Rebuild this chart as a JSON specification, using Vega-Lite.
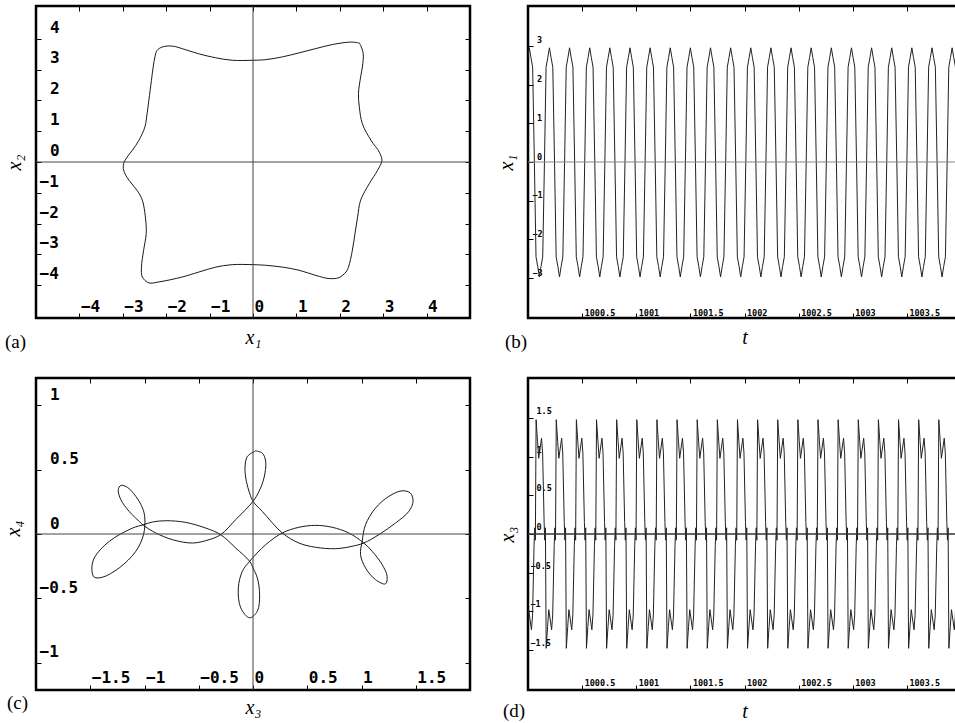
{
"$schema": "https://vega.github.io/schema/vega-lite/v6.json",
"autosize": {"type": "none"},
"padding": {"left": 36, "top": 6, "right": 919, "bottom": 717},
"background": "white",
"config": {
 "view": {"stroke": "#000", "strokeWidth": 2.5},
 "axis": {"domain": false, "grid": false, "tickColor": "#000", "tickWidth": 1, "labelColor": "#000", "labelFont": "DejaVu Sans Mono", "labelFontWeight": "bold", "titleColor": "#000", "titleFont": "Liberation Serif", "titleFontStyle": "italic", "titleFontWeight": "normal", "titleFontSize": 20, "labelFlush": false, "labelOverlap": false, "labelBound": false},
 "title": {"font": "Liberation Serif", "fontSize": 19, "fontWeight": "normal", "color": "#000", "orient": "bottom", "anchor": "start", "frame": "group", "baseline": "top"}
},
"columns": 2,
"bounds": "flush",
"spacing": {"row": 60, "column": 58},
"datasets": {
"pa": [{"x":2.45,"y":3.86},{"x":2.25,"y":3.89},{"x":1.83,"y":3.81},{"x":1.45,"y":3.68},{"x":1.06,"y":3.54},{"x":0.68,"y":3.41},{"x":0.29,"y":3.32},{"x":0,"y":3.30},{"x":-0.48,"y":3.30},{"x":-0.86,"y":3.38},{"x":-1.25,"y":3.51},{"x":-1.55,"y":3.64},{"x":-1.86,"y":3.76},{"x":-2.09,"y":3.73},{"x":-2.21,"y":3.62},{"x":-2.26,"y":3.41},{"x":-2.30,"y":3.08},{"x":-2.34,"y":2.65},{"x":-2.40,"y":2.0},{"x":-2.44,"y":1.57},{"x":-2.49,"y":1.14},{"x":-2.63,"y":0.70},{"x":-2.78,"y":0.38},{"x":-2.90,"y":0.16},{"x":-2.98,"y":-0.05},{"x":-2.98,"y":-0.27},{"x":-2.86,"y":-0.59},{"x":-2.67,"y":-0.92},{"x":-2.55,"y":-1.24},{"x":-2.48,"y":-1.78},{"x":-2.46,"y":-2.32},{"x":-2.52,"y":-2.86},{"x":-2.57,"y":-3.41},{"x":-2.55,"y":-3.73},{"x":-2.40,"y":-3.92},{"x":-2.17,"y":-3.89},{"x":-1.63,"y":-3.73},{"x":-1.25,"y":-3.57},{"x":-0.86,"y":-3.41},{"x":-0.48,"y":-3.33},{"x":0,"y":-3.33},{"x":0.29,"y":-3.35},{"x":0.68,"y":-3.41},{"x":1.06,"y":-3.51},{"x":1.45,"y":-3.68},{"x":1.75,"y":-3.78},{"x":1.98,"y":-3.75},{"x":2.14,"y":-3.57},{"x":2.2,"y":-3.41},{"x":2.29,"y":-2.86},{"x":2.35,"y":-2.32},{"x":2.41,"y":-1.78},{"x":2.48,"y":-1.24},{"x":2.68,"y":-0.70},{"x":2.87,"y":-0.27},{"x":2.97,"y":0.05},{"x":2.91,"y":0.32},{"x":2.72,"y":0.70},{"x":2.52,"y":1.24},{"x":2.45,"y":1.78},{"x":2.43,"y":2.22},{"x":2.48,"y":2.76},{"x":2.52,"y":3.08},{"x":2.54,"y":3.51},{"x":2.48,"y":3.78},{"x":2.45,"y":3.86}],
"pc": [{"x":0.025,"y":0.645},{"x":-0.052,"y":0.601},{"x":-0.074,"y":0.511},{"x":-0.061,"y":0.408},{"x":-0.031,"y":0.317},{"x":0,"y":0.253},{"x":0.086,"y":0.175},{"x":0.270,"y":0.008},{"x":0.423,"y":-0.070},{"x":0.577,"y":-0.103},{"x":0.761,"y":-0.114},{"x":0.914,"y":-0.095},{"x":1.021,"y":-0.070},{"x":1.160,"y":-0.005},{"x":1.313,"y":0.085},{"x":1.436,"y":0.175},{"x":1.475,"y":0.253},{"x":1.451,"y":0.317},{"x":1.374,"y":0.335},{"x":1.252,"y":0.292},{"x":1.129,"y":0.201},{"x":1.037,"y":0.072},{"x":1.006,"y":-0.057},{"x":0.991,"y":-0.160},{"x":1.037,"y":-0.263},{"x":1.129,"y":-0.354},{"x":1.221,"y":-0.387},{"x":1.236,"y":-0.328},{"x":1.190,"y":-0.237},{"x":1.098,"y":-0.134},{"x":1.021,"y":-0.070},{"x":0.883,"y":0.008},{"x":0.730,"y":0.052},{"x":0.577,"y":0.067},{"x":0.423,"y":0.052},{"x":0.270,"y":0.008},{"x":0.117,"y":-0.083},{"x":-0.031,"y":-0.212},{"x":-0.098,"y":-0.289},{"x":-0.135,"y":-0.418},{"x":-0.113,"y":-0.573},{"x":-0.031,"y":-0.650},{"x":0.040,"y":-0.599},{"x":0.061,"y":-0.470},{"x":0.040,"y":-0.341},{"x":0,"y":-0.263},{"x":-0.031,"y":-0.212},{"x":-0.160,"y":-0.108},{"x":-0.298,"y":-0.005},{"x":-0.436,"y":0.046},{"x":-0.620,"y":0.090},{"x":-0.804,"y":0.103},{"x":-0.926,"y":0.093},{"x":-1.009,"y":0.072},{"x":-1.110,"y":0.046},{"x":-1.325,"y":-0.057},{"x":-1.463,"y":-0.186},{"x":-1.485,"y":-0.276},{"x":-1.463,"y":-0.335},{"x":-1.387,"y":-0.335},{"x":-1.233,"y":-0.263},{"x":-1.080,"y":-0.134},{"x":-1.009,"y":-0.005},{"x":-0.997,"y":0.124},{"x":-1.018,"y":0.201},{"x":-1.080,"y":0.292},{"x":-1.156,"y":0.361},{"x":-1.218,"y":0.377},{"x":-1.242,"y":0.343},{"x":-1.218,"y":0.266},{"x":-1.141,"y":0.175},{"x":-1.049,"y":0.098},{"x":-1.009,"y":0.067},{"x":-0.896,"y":0.008},{"x":-0.742,"y":-0.044},{"x":-0.558,"y":-0.070},{"x":-0.405,"y":-0.044},{"x":-0.298,"y":-0.005},{"x":-0.160,"y":0.111},{"x":0,"y":0.253},{"x":0.055,"y":0.330},{"x":0.101,"y":0.434},{"x":0.117,"y":0.563},{"x":0.086,"y":0.627},{"x":0.025,"y":0.645}],
"pb": [
{"t":999.950,"v":-2.45},{"t":999.966,"v":0},{"t":999.981,"v":2.45},{"t":999.997,"v":2.7},
{"t":1000.012,"v":2.95},{"t":1000.027,"v":2.7},{"t":1000.043,"v":2.45},{"t":1000.059,"v":0},{"t":1000.074,"v":-2.45},{"t":1000.090,"v":-2.7},{"t":1000.105,"v":-2.97},{"t":1000.120,"v":-2.7},{"t":1000.136,"v":-2.45},{"t":1000.152,"v":0},{"t":1000.167,"v":2.45},{"t":1000.183,"v":2.7},
{"t":1000.198,"v":2.95},{"t":1000.213,"v":2.7},{"t":1000.229,"v":2.45},{"t":1000.245,"v":0},{"t":1000.260,"v":-2.45},{"t":1000.276,"v":-2.7},{"t":1000.291,"v":-2.97},{"t":1000.306,"v":-2.7},{"t":1000.322,"v":-2.45},{"t":1000.338,"v":0},{"t":1000.353,"v":2.45},{"t":1000.369,"v":2.7},
{"t":1000.384,"v":2.95},{"t":1000.399,"v":2.7},{"t":1000.415,"v":2.45},{"t":1000.431,"v":0},{"t":1000.446,"v":-2.45},{"t":1000.462,"v":-2.7},{"t":1000.477,"v":-2.97},{"t":1000.492,"v":-2.7},{"t":1000.508,"v":-2.45},{"t":1000.524,"v":0},{"t":1000.539,"v":2.45},{"t":1000.555,"v":2.7},
{"t":1000.570,"v":2.95},{"t":1000.585,"v":2.7},{"t":1000.601,"v":2.45},{"t":1000.617,"v":0},{"t":1000.632,"v":-2.45},{"t":1000.648,"v":-2.7},{"t":1000.663,"v":-2.97},{"t":1000.678,"v":-2.7},{"t":1000.694,"v":-2.45},{"t":1000.710,"v":0},{"t":1000.725,"v":2.45},{"t":1000.741,"v":2.7},
{"t":1000.756,"v":2.95},{"t":1000.771,"v":2.7},{"t":1000.787,"v":2.45},{"t":1000.803,"v":0},{"t":1000.818,"v":-2.45},{"t":1000.834,"v":-2.7},{"t":1000.849,"v":-2.97},{"t":1000.864,"v":-2.7},{"t":1000.880,"v":-2.45},{"t":1000.896,"v":0},{"t":1000.911,"v":2.45},{"t":1000.927,"v":2.7},
{"t":1000.942,"v":2.95},{"t":1000.957,"v":2.7},{"t":1000.973,"v":2.45},{"t":1000.989,"v":0},{"t":1001.004,"v":-2.45},{"t":1001.020,"v":-2.7},{"t":1001.035,"v":-2.97},{"t":1001.050,"v":-2.7},{"t":1001.066,"v":-2.45},{"t":1001.082,"v":0},{"t":1001.097,"v":2.45},{"t":1001.113,"v":2.7},
{"t":1001.128,"v":2.95},{"t":1001.143,"v":2.7},{"t":1001.159,"v":2.45},{"t":1001.175,"v":0},{"t":1001.190,"v":-2.45},{"t":1001.206,"v":-2.7},{"t":1001.221,"v":-2.97},{"t":1001.236,"v":-2.7},{"t":1001.252,"v":-2.45},{"t":1001.268,"v":0},{"t":1001.283,"v":2.45},{"t":1001.299,"v":2.7},
{"t":1001.314,"v":2.95},{"t":1001.329,"v":2.7},{"t":1001.345,"v":2.45},{"t":1001.361,"v":0},{"t":1001.376,"v":-2.45},{"t":1001.392,"v":-2.7},{"t":1001.407,"v":-2.97},{"t":1001.422,"v":-2.7},{"t":1001.438,"v":-2.45},{"t":1001.454,"v":0},{"t":1001.469,"v":2.45},{"t":1001.485,"v":2.7},
{"t":1001.500,"v":2.95},{"t":1001.515,"v":2.7},{"t":1001.531,"v":2.45},{"t":1001.547,"v":0},{"t":1001.562,"v":-2.45},{"t":1001.578,"v":-2.7},{"t":1001.593,"v":-2.97},{"t":1001.608,"v":-2.7},{"t":1001.624,"v":-2.45},{"t":1001.640,"v":0},{"t":1001.655,"v":2.45},{"t":1001.671,"v":2.7},
{"t":1001.686,"v":2.95},{"t":1001.701,"v":2.7},{"t":1001.717,"v":2.45},{"t":1001.733,"v":0},{"t":1001.748,"v":-2.45},{"t":1001.764,"v":-2.7},{"t":1001.779,"v":-2.97},{"t":1001.794,"v":-2.7},{"t":1001.810,"v":-2.45},{"t":1001.826,"v":0},{"t":1001.841,"v":2.45},{"t":1001.857,"v":2.7},
{"t":1001.872,"v":2.95},{"t":1001.887,"v":2.7},{"t":1001.903,"v":2.45},{"t":1001.919,"v":0},{"t":1001.934,"v":-2.45},{"t":1001.950,"v":-2.7},{"t":1001.965,"v":-2.97},{"t":1001.980,"v":-2.7},{"t":1001.996,"v":-2.45},{"t":1002.012,"v":0},{"t":1002.027,"v":2.45},{"t":1002.043,"v":2.7},
{"t":1002.058,"v":2.95},{"t":1002.073,"v":2.7},{"t":1002.089,"v":2.45},{"t":1002.105,"v":0},{"t":1002.120,"v":-2.45},{"t":1002.136,"v":-2.7},{"t":1002.151,"v":-2.97},{"t":1002.166,"v":-2.7},{"t":1002.182,"v":-2.45},{"t":1002.198,"v":0},{"t":1002.213,"v":2.45},{"t":1002.229,"v":2.7},
{"t":1002.244,"v":2.95},{"t":1002.259,"v":2.7},{"t":1002.275,"v":2.45},{"t":1002.291,"v":0},{"t":1002.306,"v":-2.45},{"t":1002.322,"v":-2.7},{"t":1002.337,"v":-2.97},{"t":1002.352,"v":-2.7},{"t":1002.368,"v":-2.45},{"t":1002.384,"v":0},{"t":1002.399,"v":2.45},{"t":1002.415,"v":2.7},
{"t":1002.430,"v":2.95},{"t":1002.445,"v":2.7},{"t":1002.461,"v":2.45},{"t":1002.477,"v":0},{"t":1002.492,"v":-2.45},{"t":1002.508,"v":-2.7},{"t":1002.523,"v":-2.97},{"t":1002.538,"v":-2.7},{"t":1002.554,"v":-2.45},{"t":1002.570,"v":0},{"t":1002.585,"v":2.45},{"t":1002.601,"v":2.7},
{"t":1002.616,"v":2.95},{"t":1002.631,"v":2.7},{"t":1002.647,"v":2.45},{"t":1002.663,"v":0},{"t":1002.678,"v":-2.45},{"t":1002.694,"v":-2.7},{"t":1002.709,"v":-2.97},{"t":1002.724,"v":-2.7},{"t":1002.740,"v":-2.45},{"t":1002.756,"v":0},{"t":1002.771,"v":2.45},{"t":1002.787,"v":2.7},
{"t":1002.802,"v":2.95},{"t":1002.817,"v":2.7},{"t":1002.833,"v":2.45},{"t":1002.849,"v":0},{"t":1002.864,"v":-2.45},{"t":1002.880,"v":-2.7},{"t":1002.895,"v":-2.97},{"t":1002.910,"v":-2.7},{"t":1002.926,"v":-2.45},{"t":1002.942,"v":0},{"t":1002.957,"v":2.45},{"t":1002.973,"v":2.7},
{"t":1002.988,"v":2.95},{"t":1003.003,"v":2.7},{"t":1003.019,"v":2.45},{"t":1003.035,"v":0},{"t":1003.050,"v":-2.45},{"t":1003.066,"v":-2.7},{"t":1003.081,"v":-2.97},{"t":1003.096,"v":-2.7},{"t":1003.112,"v":-2.45},{"t":1003.128,"v":0},{"t":1003.143,"v":2.45},{"t":1003.159,"v":2.7},
{"t":1003.174,"v":2.95},{"t":1003.189,"v":2.7},{"t":1003.205,"v":2.45},{"t":1003.221,"v":0},{"t":1003.236,"v":-2.45},{"t":1003.252,"v":-2.7},{"t":1003.267,"v":-2.97},{"t":1003.282,"v":-2.7},{"t":1003.298,"v":-2.45},{"t":1003.314,"v":0},{"t":1003.329,"v":2.45},{"t":1003.345,"v":2.7},
{"t":1003.360,"v":2.95},{"t":1003.375,"v":2.7},{"t":1003.391,"v":2.45},{"t":1003.407,"v":0},{"t":1003.422,"v":-2.45},{"t":1003.438,"v":-2.7},{"t":1003.453,"v":-2.97},{"t":1003.468,"v":-2.7},{"t":1003.484,"v":-2.45},{"t":1003.500,"v":0},{"t":1003.515,"v":2.45},{"t":1003.531,"v":2.7},
{"t":1003.546,"v":2.95},{"t":1003.561,"v":2.7},{"t":1003.577,"v":2.45},{"t":1003.593,"v":0},{"t":1003.608,"v":-2.45},{"t":1003.624,"v":-2.7},{"t":1003.639,"v":-2.97},{"t":1003.654,"v":-2.7},{"t":1003.670,"v":-2.45},{"t":1003.686,"v":0},{"t":1003.701,"v":2.45},{"t":1003.717,"v":2.7},
{"t":1003.732,"v":2.95},{"t":1003.747,"v":2.7},{"t":1003.763,"v":2.45},{"t":1003.779,"v":0},{"t":1003.794,"v":-2.45},{"t":1003.810,"v":-2.7},{"t":1003.825,"v":-2.97},{"t":1003.840,"v":-2.7},{"t":1003.856,"v":-2.45},{"t":1003.872,"v":0},{"t":1003.887,"v":2.45},{"t":1003.903,"v":2.7},
{"t":1003.918,"v":2.95},{"t":1003.933,"v":2.7},{"t":1003.949,"v":2.45},{"t":1003.965,"v":0},{"t":1003.980,"v":-2.45},{"t":1003.996,"v":-2.7},{"t":1004.011,"v":-2.97},{"t":1004.026,"v":-2.7}
],
"pd": [
{"t":999.889,"v":1.48},{"t":999.902,"v":1.2},{"t":999.913,"v":0.98},{"t":999.939,"v":1.24},{"t":999.949,"v":1.05},{"t":999.963,"v":0.15},{"t":999.969,"v":-0.08},{"t":999.975,"v":0.08},{"t":999.982,"v":-1.48},{"t":999.995,"v":-1.2},{"t":1000.006,"v":-0.98},{"t":1000.032,"v":-1.24},{"t":1000.042,"v":-1.05},{"t":1000.056,"v":-0.15},{"t":1000.062,"v":0.08},{"t":1000.068,"v":-0.08},
{"t":1000.075,"v":1.48},{"t":1000.088,"v":1.2},{"t":1000.099,"v":0.98},{"t":1000.125,"v":1.24},{"t":1000.135,"v":1.05},{"t":1000.149,"v":0.15},{"t":1000.155,"v":-0.08},{"t":1000.161,"v":0.08},{"t":1000.168,"v":-1.48},{"t":1000.181,"v":-1.2},{"t":1000.192,"v":-0.98},{"t":1000.218,"v":-1.24},{"t":1000.228,"v":-1.05},{"t":1000.242,"v":-0.15},{"t":1000.248,"v":0.08},{"t":1000.254,"v":-0.08},
{"t":1000.261,"v":1.48},{"t":1000.274,"v":1.2},{"t":1000.285,"v":0.98},{"t":1000.311,"v":1.24},{"t":1000.321,"v":1.05},{"t":1000.335,"v":0.15},{"t":1000.341,"v":-0.08},{"t":1000.347,"v":0.08},{"t":1000.354,"v":-1.48},{"t":1000.367,"v":-1.2},{"t":1000.378,"v":-0.98},{"t":1000.404,"v":-1.24},{"t":1000.414,"v":-1.05},{"t":1000.428,"v":-0.15},{"t":1000.434,"v":0.08},{"t":1000.440,"v":-0.08},
{"t":1000.447,"v":1.48},{"t":1000.460,"v":1.2},{"t":1000.471,"v":0.98},{"t":1000.497,"v":1.24},{"t":1000.507,"v":1.05},{"t":1000.521,"v":0.15},{"t":1000.527,"v":-0.08},{"t":1000.533,"v":0.08},{"t":1000.540,"v":-1.48},{"t":1000.553,"v":-1.2},{"t":1000.564,"v":-0.98},{"t":1000.590,"v":-1.24},{"t":1000.600,"v":-1.05},{"t":1000.614,"v":-0.15},{"t":1000.620,"v":0.08},{"t":1000.626,"v":-0.08},
{"t":1000.633,"v":1.48},{"t":1000.646,"v":1.2},{"t":1000.657,"v":0.98},{"t":1000.683,"v":1.24},{"t":1000.693,"v":1.05},{"t":1000.707,"v":0.15},{"t":1000.713,"v":-0.08},{"t":1000.719,"v":0.08},{"t":1000.726,"v":-1.48},{"t":1000.739,"v":-1.2},{"t":1000.750,"v":-0.98},{"t":1000.776,"v":-1.24},{"t":1000.786,"v":-1.05},{"t":1000.800,"v":-0.15},{"t":1000.806,"v":0.08},{"t":1000.812,"v":-0.08},
{"t":1000.819,"v":1.48},{"t":1000.832,"v":1.2},{"t":1000.843,"v":0.98},{"t":1000.869,"v":1.24},{"t":1000.879,"v":1.05},{"t":1000.893,"v":0.15},{"t":1000.899,"v":-0.08},{"t":1000.905,"v":0.08},{"t":1000.912,"v":-1.48},{"t":1000.925,"v":-1.2},{"t":1000.936,"v":-0.98},{"t":1000.962,"v":-1.24},{"t":1000.972,"v":-1.05},{"t":1000.986,"v":-0.15},{"t":1000.992,"v":0.08},{"t":1000.998,"v":-0.08},
{"t":1001.005,"v":1.48},{"t":1001.018,"v":1.2},{"t":1001.029,"v":0.98},{"t":1001.055,"v":1.24},{"t":1001.065,"v":1.05},{"t":1001.079,"v":0.15},{"t":1001.085,"v":-0.08},{"t":1001.091,"v":0.08},{"t":1001.098,"v":-1.48},{"t":1001.111,"v":-1.2},{"t":1001.122,"v":-0.98},{"t":1001.148,"v":-1.24},{"t":1001.158,"v":-1.05},{"t":1001.172,"v":-0.15},{"t":1001.178,"v":0.08},{"t":1001.184,"v":-0.08},
{"t":1001.191,"v":1.48},{"t":1001.204,"v":1.2},{"t":1001.215,"v":0.98},{"t":1001.241,"v":1.24},{"t":1001.251,"v":1.05},{"t":1001.265,"v":0.15},{"t":1001.271,"v":-0.08},{"t":1001.277,"v":0.08},{"t":1001.284,"v":-1.48},{"t":1001.297,"v":-1.2},{"t":1001.308,"v":-0.98},{"t":1001.334,"v":-1.24},{"t":1001.344,"v":-1.05},{"t":1001.358,"v":-0.15},{"t":1001.364,"v":0.08},{"t":1001.370,"v":-0.08},
{"t":1001.377,"v":1.48},{"t":1001.390,"v":1.2},{"t":1001.401,"v":0.98},{"t":1001.427,"v":1.24},{"t":1001.437,"v":1.05},{"t":1001.451,"v":0.15},{"t":1001.457,"v":-0.08},{"t":1001.463,"v":0.08},{"t":1001.470,"v":-1.48},{"t":1001.483,"v":-1.2},{"t":1001.494,"v":-0.98},{"t":1001.520,"v":-1.24},{"t":1001.530,"v":-1.05},{"t":1001.544,"v":-0.15},{"t":1001.550,"v":0.08},{"t":1001.556,"v":-0.08},
{"t":1001.563,"v":1.48},{"t":1001.576,"v":1.2},{"t":1001.587,"v":0.98},{"t":1001.613,"v":1.24},{"t":1001.623,"v":1.05},{"t":1001.637,"v":0.15},{"t":1001.643,"v":-0.08},{"t":1001.649,"v":0.08},{"t":1001.656,"v":-1.48},{"t":1001.669,"v":-1.2},{"t":1001.680,"v":-0.98},{"t":1001.706,"v":-1.24},{"t":1001.716,"v":-1.05},{"t":1001.730,"v":-0.15},{"t":1001.736,"v":0.08},{"t":1001.742,"v":-0.08},
{"t":1001.749,"v":1.48},{"t":1001.762,"v":1.2},{"t":1001.773,"v":0.98},{"t":1001.799,"v":1.24},{"t":1001.809,"v":1.05},{"t":1001.823,"v":0.15},{"t":1001.829,"v":-0.08},{"t":1001.835,"v":0.08},{"t":1001.842,"v":-1.48},{"t":1001.855,"v":-1.2},{"t":1001.866,"v":-0.98},{"t":1001.892,"v":-1.24},{"t":1001.902,"v":-1.05},{"t":1001.916,"v":-0.15},{"t":1001.922,"v":0.08},{"t":1001.928,"v":-0.08},
{"t":1001.935,"v":1.48},{"t":1001.948,"v":1.2},{"t":1001.959,"v":0.98},{"t":1001.985,"v":1.24},{"t":1001.995,"v":1.05},{"t":1002.009,"v":0.15},{"t":1002.015,"v":-0.08},{"t":1002.021,"v":0.08},{"t":1002.028,"v":-1.48},{"t":1002.041,"v":-1.2},{"t":1002.052,"v":-0.98},{"t":1002.078,"v":-1.24},{"t":1002.088,"v":-1.05},{"t":1002.102,"v":-0.15},{"t":1002.108,"v":0.08},{"t":1002.114,"v":-0.08},
{"t":1002.121,"v":1.48},{"t":1002.134,"v":1.2},{"t":1002.145,"v":0.98},{"t":1002.171,"v":1.24},{"t":1002.181,"v":1.05},{"t":1002.195,"v":0.15},{"t":1002.201,"v":-0.08},{"t":1002.207,"v":0.08},{"t":1002.214,"v":-1.48},{"t":1002.227,"v":-1.2},{"t":1002.238,"v":-0.98},{"t":1002.264,"v":-1.24},{"t":1002.274,"v":-1.05},{"t":1002.288,"v":-0.15},{"t":1002.294,"v":0.08},{"t":1002.300,"v":-0.08},
{"t":1002.307,"v":1.48},{"t":1002.320,"v":1.2},{"t":1002.331,"v":0.98},{"t":1002.357,"v":1.24},{"t":1002.367,"v":1.05},{"t":1002.381,"v":0.15},{"t":1002.387,"v":-0.08},{"t":1002.393,"v":0.08},{"t":1002.400,"v":-1.48},{"t":1002.413,"v":-1.2},{"t":1002.424,"v":-0.98},{"t":1002.450,"v":-1.24},{"t":1002.460,"v":-1.05},{"t":1002.474,"v":-0.15},{"t":1002.480,"v":0.08},{"t":1002.486,"v":-0.08},
{"t":1002.493,"v":1.48},{"t":1002.506,"v":1.2},{"t":1002.517,"v":0.98},{"t":1002.543,"v":1.24},{"t":1002.553,"v":1.05},{"t":1002.567,"v":0.15},{"t":1002.573,"v":-0.08},{"t":1002.579,"v":0.08},{"t":1002.586,"v":-1.48},{"t":1002.599,"v":-1.2},{"t":1002.610,"v":-0.98},{"t":1002.636,"v":-1.24},{"t":1002.646,"v":-1.05},{"t":1002.660,"v":-0.15},{"t":1002.666,"v":0.08},{"t":1002.672,"v":-0.08},
{"t":1002.679,"v":1.48},{"t":1002.692,"v":1.2},{"t":1002.703,"v":0.98},{"t":1002.729,"v":1.24},{"t":1002.739,"v":1.05},{"t":1002.753,"v":0.15},{"t":1002.759,"v":-0.08},{"t":1002.765,"v":0.08},{"t":1002.772,"v":-1.48},{"t":1002.785,"v":-1.2},{"t":1002.796,"v":-0.98},{"t":1002.822,"v":-1.24},{"t":1002.832,"v":-1.05},{"t":1002.846,"v":-0.15},{"t":1002.852,"v":0.08},{"t":1002.858,"v":-0.08},
{"t":1002.865,"v":1.48},{"t":1002.878,"v":1.2},{"t":1002.889,"v":0.98},{"t":1002.915,"v":1.24},{"t":1002.925,"v":1.05},{"t":1002.939,"v":0.15},{"t":1002.945,"v":-0.08},{"t":1002.951,"v":0.08},{"t":1002.958,"v":-1.48},{"t":1002.971,"v":-1.2},{"t":1002.982,"v":-0.98},{"t":1003.008,"v":-1.24},{"t":1003.018,"v":-1.05},{"t":1003.032,"v":-0.15},{"t":1003.038,"v":0.08},{"t":1003.044,"v":-0.08},
{"t":1003.051,"v":1.48},{"t":1003.064,"v":1.2},{"t":1003.075,"v":0.98},{"t":1003.101,"v":1.24},{"t":1003.111,"v":1.05},{"t":1003.125,"v":0.15},{"t":1003.131,"v":-0.08},{"t":1003.137,"v":0.08},{"t":1003.144,"v":-1.48},{"t":1003.157,"v":-1.2},{"t":1003.168,"v":-0.98},{"t":1003.194,"v":-1.24},{"t":1003.204,"v":-1.05},{"t":1003.218,"v":-0.15},{"t":1003.224,"v":0.08},{"t":1003.230,"v":-0.08},
{"t":1003.237,"v":1.48},{"t":1003.250,"v":1.2},{"t":1003.261,"v":0.98},{"t":1003.287,"v":1.24},{"t":1003.297,"v":1.05},{"t":1003.311,"v":0.15},{"t":1003.317,"v":-0.08},{"t":1003.323,"v":0.08},{"t":1003.330,"v":-1.48},{"t":1003.343,"v":-1.2},{"t":1003.354,"v":-0.98},{"t":1003.380,"v":-1.24},{"t":1003.390,"v":-1.05},{"t":1003.404,"v":-0.15},{"t":1003.410,"v":0.08},{"t":1003.416,"v":-0.08},
{"t":1003.423,"v":1.48},{"t":1003.436,"v":1.2},{"t":1003.447,"v":0.98},{"t":1003.473,"v":1.24},{"t":1003.483,"v":1.05},{"t":1003.497,"v":0.15},{"t":1003.503,"v":-0.08},{"t":1003.509,"v":0.08},{"t":1003.516,"v":-1.48},{"t":1003.529,"v":-1.2},{"t":1003.540,"v":-0.98},{"t":1003.566,"v":-1.24},{"t":1003.576,"v":-1.05},{"t":1003.590,"v":-0.15},{"t":1003.596,"v":0.08},{"t":1003.602,"v":-0.08},
{"t":1003.609,"v":1.48},{"t":1003.622,"v":1.2},{"t":1003.633,"v":0.98},{"t":1003.659,"v":1.24},{"t":1003.669,"v":1.05},{"t":1003.683,"v":0.15},{"t":1003.689,"v":-0.08},{"t":1003.695,"v":0.08},{"t":1003.702,"v":-1.48},{"t":1003.715,"v":-1.2},{"t":1003.726,"v":-0.98},{"t":1003.752,"v":-1.24},{"t":1003.762,"v":-1.05},{"t":1003.776,"v":-0.15},{"t":1003.782,"v":0.08},{"t":1003.788,"v":-0.08},
{"t":1003.795,"v":1.48},{"t":1003.808,"v":1.2},{"t":1003.819,"v":0.98},{"t":1003.845,"v":1.24},{"t":1003.855,"v":1.05},{"t":1003.869,"v":0.15},{"t":1003.875,"v":-0.08},{"t":1003.881,"v":0.08},{"t":1003.888,"v":-1.48},{"t":1003.901,"v":-1.2},{"t":1003.912,"v":-0.98},{"t":1003.938,"v":-1.24},{"t":1003.948,"v":-1.05},{"t":1003.962,"v":-0.15},{"t":1003.968,"v":0.08},{"t":1003.974,"v":-0.08},
{"t":1003.981,"v":1.48},{"t":1003.994,"v":1.2},{"t":1004.005,"v":0.98},{"t":1004.031,"v":1.24}
]
},
"concat": [
{
 "width": 434, "height": 312,
 "title": {"text": "(a)", "orient": "bottom", "anchor": "start", "frame": "group", "dx": -31, "offset": -14},
 "layer": [
  {"data": {"name": "pa"}, "mark": {"type": "line", "interpolate": "catmull-rom", "stroke": "#000", "strokeWidth": 0.9},
   "encoding": {
    "x": {"field": "x", "type": "quantitative", "scale": {"domain": [-5, 5], "nice": false, "zero": false},
      "axis": {"orient": "bottom", "values": [-4,-3,-2,-1,0,1,2,3,4], "format": "~g", "tickSize": -5, "labelAlign": "left", "labelBaseline": "alphabetic", "labelPadding": -1.3, "labelOffset": 1, "labelFontSize": 16, "title": "x₁", "titleY": 25, "titleBaseline": "alphabetic"}},
    "y": {"field": "y", "type": "quantitative", "scale": {"domain": [-5.06, 5.06], "nice": false, "zero": false},
      "axis": {"orient": "left", "values": [-4,-3,-2,-1,0,1,2,3,4], "format": "~g", "tickSize": -5, "labelAlign": "left", "labelBaseline": "alphabetic", "labelPadding": {"condition": {"test": "datum.value < 0", "value": 2}, "value": -8.5}, "labelOffset": -6.6, "labelFontSize": 16, "title": "x₂", "titleX": -16, "titleY": 156, "titleAngle": -90, "titleAlign": "center", "titleBaseline": "alphabetic"}},
    "order": {"value": null}
   }},
  {"data": {"values": [{}]}, "mark": {"type": "rule", "stroke": "#444", "strokeWidth": 1},
   "encoding": {"y": {"datum": 0, "axis": {"orient": "right", "values": [-4,-3,-2,-1,0,1,2,3,4], "tickSize": -5, "labels": false, "title": null}}}},
  {"data": {"values": [{}]}, "mark": {"type": "rule", "stroke": "#444", "strokeWidth": 1},
   "encoding": {"x": {"datum": 0, "axis": {"orient": "top", "values": [-4,-3,-2,-1,0,1,2,3,4], "tickSize": -5, "labels": false, "title": null}}}}
 ],
 "resolve": {"axis": {"x": "independent", "y": "independent"}}
},
{
 "width": 433, "height": 312,
 "title": {"text": "(b)", "orient": "bottom", "anchor": "start", "frame": "group", "dx": -23, "offset": -14},
 "layer": [
  {"data": {"name": "pb"}, "mark": {"type": "line", "stroke": "#222", "strokeWidth": 1, "clip": true},
   "encoding": {
    "x": {"field": "t", "type": "quantitative", "scale": {"domain": [1000, 1004], "nice": false, "zero": false},
      "axis": {"orient": "bottom", "values": [1000.5,1001,1001.5,1002,1002.5,1003,1003.5], "format": "~g", "tickSize": -5, "labelAlign": "left", "labelBaseline": "alphabetic", "labelPadding": 2, "labelOffset": 2, "labelFontSize": 8.5, "title": "t", "titleY": 25, "titleBaseline": "alphabetic"}},
    "y": {"field": "v", "type": "quantitative", "scale": {"domain": [-4.03, 4.03], "nice": false, "zero": false},
      "axis": {"orient": "left", "values": [-3,-2,-1,0,1,2,3], "format": "~g", "tickSize": -5, "labelAlign": "left", "labelBaseline": "alphabetic", "labelPadding": {"condition": {"test": "datum.value < 0", "value": 1}, "value": -3.5}, "labelOffset": -3, "labelFontSize": 8.5, "title": "x₁", "titleX": -16, "titleY": 156, "titleAngle": -90, "titleAlign": "center", "titleBaseline": "alphabetic"}}
   }},
  {"data": {"values": [{}]}, "mark": {"type": "rule", "stroke": "#888", "strokeWidth": 1.2},
   "encoding": {"y": {"datum": 0, "axis": null}}},
  {"data": {"values": [{}]}, "mark": {"type": "rule", "strokeOpacity": 0},
   "encoding": {"x": {"datum": 1000, "axis": {"orient": "top", "values": [1000.5,1001,1001.5,1002,1002.5,1003,1003.5], "tickSize": -5, "labels": false, "title": null}}}}
 ],
 "resolve": {"axis": {"x": "independent", "y": "independent"}}
},
{
 "width": 434, "height": 312,
 "title": {"text": "(c)", "orient": "bottom", "anchor": "start", "frame": "group", "dx": -29, "offset": -23},
 "layer": [
  {"data": {"name": "pc"}, "mark": {"type": "line", "interpolate": "catmull-rom", "stroke": "#000", "strokeWidth": 0.9},
   "encoding": {
    "x": {"field": "x", "type": "quantitative", "scale": {"domain": [-2, 2], "nice": false, "zero": false},
      "axis": {"orient": "bottom", "values": [-1.5,-1,-0.5,0,0.5,1,1.5], "format": "~g", "tickSize": -5, "labelAlign": "left", "labelBaseline": "alphabetic", "labelPadding": -2.8, "labelOffset": 1, "labelFontSize": 16, "title": "x₃", "titleY": 23, "titleBaseline": "alphabetic"}},
    "y": {"field": "y", "type": "quantitative", "scale": {"domain": [-1.21, 1.21], "nice": false, "zero": false},
      "axis": {"orient": "left", "values": [-1,-0.5,0,0.5,1], "format": "~g", "tickSize": -5, "labelAlign": "left", "labelBaseline": "alphabetic", "labelPadding": {"condition": {"test": "datum.value < 0", "value": 2}, "value": -8.5}, "labelOffset": -6, "labelFontSize": 16, "title": "x₄", "titleX": -17, "titleY": 150, "titleAngle": -90, "titleAlign": "center", "titleBaseline": "alphabetic"}},
    "order": {"value": null}
   }},
  {"data": {"values": [{}]}, "mark": {"type": "rule", "stroke": "#444", "strokeWidth": 1},
   "encoding": {"y": {"datum": 0, "axis": {"orient": "right", "values": [-1,-0.5,0,0.5,1], "tickSize": -5, "labels": false, "title": null}}}},
  {"data": {"values": [{}]}, "mark": {"type": "rule", "stroke": "#444", "strokeWidth": 1},
   "encoding": {"x": {"datum": 0, "axis": {"orient": "top", "values": [-1.5,-1,-0.5,0,0.5,1,1.5], "tickSize": -5, "labels": false, "title": null}}}}
 ],
 "resolve": {"axis": {"x": "independent", "y": "independent"}}
},
{
 "width": 433, "height": 312,
 "title": {"text": "(d)", "orient": "bottom", "anchor": "start", "frame": "group", "dx": -25, "offset": -19},
 "layer": [
  {"data": {"name": "pd"}, "mark": {"type": "line", "stroke": "#222", "strokeWidth": 1, "clip": true},
   "encoding": {
    "x": {"field": "t", "type": "quantitative", "scale": {"domain": [1000, 1004], "nice": false, "zero": false},
      "axis": {"orient": "bottom", "values": [1000.5,1001,1001.5,1002,1002.5,1003,1003.5], "format": "~g", "tickSize": -5, "labelAlign": "left", "labelBaseline": "alphabetic", "labelPadding": 0, "labelOffset": 2, "labelFontSize": 8.5, "title": "t", "titleY": 27, "titleBaseline": "alphabetic"}},
    "y": {"field": "v", "type": "quantitative", "scale": {"domain": [-2.02, 2.02], "nice": false, "zero": false},
      "axis": {"orient": "left", "values": [-1.5,-1,-0.5,0,0.5,1,1.5], "format": "~g", "tickSize": -5, "labelAlign": "left", "labelBaseline": "alphabetic", "labelPadding": {"condition": {"test": "datum.value < 0", "value": 3}, "value": -3}, "labelOffset": -4.5, "labelFontSize": 8.5, "title": "x₃", "titleX": -15, "titleY": 156, "titleAngle": -90, "titleAlign": "center", "titleBaseline": "alphabetic"}}
   }},
  {"data": {"values": [{}]}, "mark": {"type": "rule", "stroke": "#333", "strokeWidth": 1.5},
   "encoding": {"y": {"datum": 0, "axis": null}}},
  {"data": {"values": [{}]}, "mark": {"type": "rule", "strokeOpacity": 0},
   "encoding": {"x": {"datum": 1000, "axis": {"orient": "top", "values": [1000.5,1001,1001.5,1002,1002.5,1003,1003.5], "tickSize": -5, "labels": false, "title": null}}}}
 ],
 "resolve": {"axis": {"x": "independent", "y": "independent"}}
}
]
}
